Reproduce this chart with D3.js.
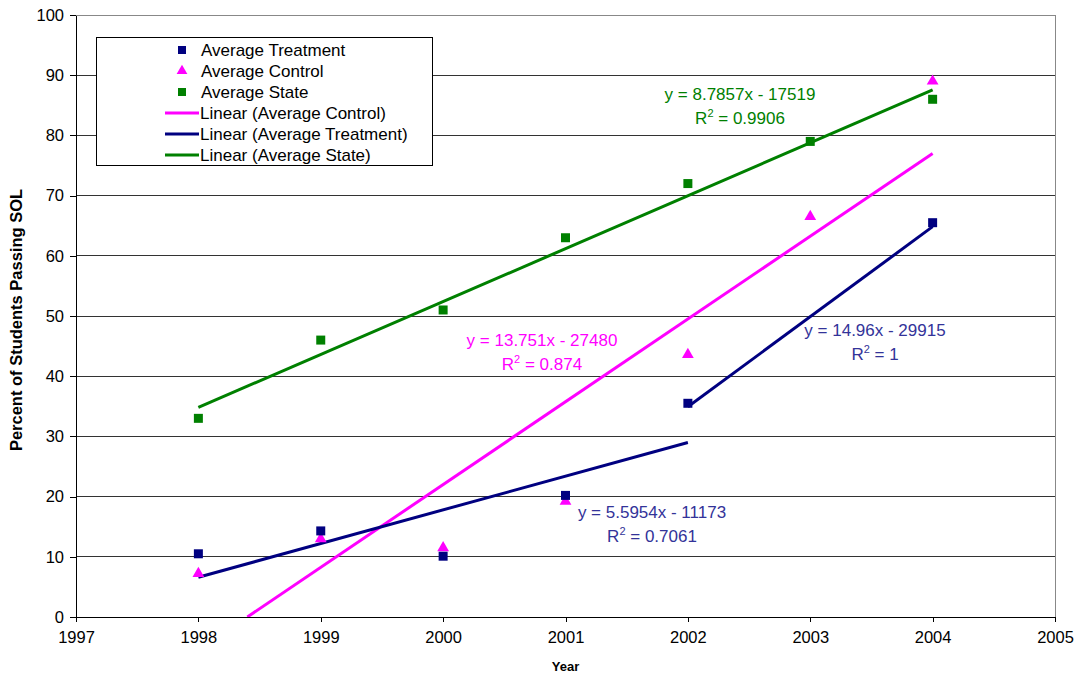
<!DOCTYPE html>
<html>
<head>
<meta charset="utf-8">
<script src="https://cdn.jsdelivr.net/npm/d3@7"></script>
<style>
  html, body { margin: 0; padding: 0; background: #fff; }
  svg { display: block; font-family: "Liberation Sans", Arial, sans-serif; }
</style>
</head>
<body>
<svg id="chart" width="1080" height="677"></svg>
<script>
// Survey years
const years = [1998, 1999, 2000, 2001, 2002, 2003, 2004];

// Percent of students passing SOL (null = no value reported)
const treatment = [10.5, 14.3, 10.1, 20.2, 35.5, null, 65.5];
const control   = [7.2, 13.0, 11.5, 19.2, 43.6, 66.5, 89.0];
const state     = [33.0, 46.0, 51.0, 63.0, 72.0, 79.0, 86.0];

// Linear trendlines as reported: [slope, intercept, fromYear, toYear]
const trendControl    = [13.751, -27480, 1998, 2004];
const trendTreatmentA = [5.5954, -11173, 1998, 2002];
const trendTreatmentB = [14.96, -29915, 2002, 2004];
const trendState      = [8.7857, -17519, 1998, 2004];

// Axis ticks
const xTicks = [1997, 1998, 1999, 2000, 2001, 2002, 2003, 2004, 2005];
const yTicks = [0, 10, 20, 30, 40, 50, 60, 70, 80, 90, 100];

const C_TREAT = "#000080", C_CTRL = "#ff00ff", C_STATE = "#008000";
const FS = 17;

const svg = d3.select("#chart");
const plot = { left: 76, right: 1055, top: 15, bottom: 617 };

const x = d3.scaleLinear().domain([1997, 2005]).range([plot.left, plot.right]);
const y = d3.scaleLinear().domain([0, 100]).range([plot.bottom, plot.top]);

// Gridlines
svg.append("g").selectAll("line").data(yTicks.filter(d => d > 0)).join("line")
  .attr("x1", plot.left).attr("x2", plot.right)
  .attr("y1", d => y(d)).attr("y2", d => y(d))
  .attr("stroke", d => d === 100 ? "#888" : "#333").attr("stroke-width", 1)
  .attr("shape-rendering", "crispEdges");

// Right border of plot
svg.append("line")
  .attr("x1", plot.right).attr("x2", plot.right)
  .attr("y1", plot.top).attr("y2", plot.bottom)
  .attr("stroke", "#888").attr("shape-rendering", "crispEdges");

// Axes
const xAxis = d3.axisBottom(x).tickValues(xTicks).tickFormat(d3.format("d")).tickSizeInner(5).tickSizeOuter(0).tickPadding(9);
const gx = svg.append("g").attr("transform", `translate(0,${plot.bottom})`).call(xAxis);
const yAxis = d3.axisLeft(y).tickValues(yTicks).tickSizeInner(6).tickSizeOuter(0).tickPadding(6);
const gy = svg.append("g").attr("transform", `translate(${plot.left},0)`).call(yAxis);
[gx, gy].forEach(g => {
  g.selectAll("path.domain").attr("stroke", "#000").attr("shape-rendering", "crispEdges");
  g.selectAll(".tick line").attr("stroke", "#000").attr("shape-rendering", "crispEdges");
  g.selectAll(".tick text").attr("font-size", 16.5).attr("fill", "#000")
    .attr("font-family", "'Liberation Sans', Arial, sans-serif");
});

// Axis titles
svg.append("text").attr("x", x(2001)).attr("y", 671).attr("text-anchor", "middle")
  .attr("font-size", 13).attr("font-weight", "bold").text("Year");
svg.append("text").attr("transform", `translate(22,${(plot.top + plot.bottom) / 2 + 4}) rotate(-90)`)
  .attr("text-anchor", "middle").attr("font-size", 16.5).attr("font-weight", "bold")
  .text("Percent of Students Passing SOL");

// Trendlines
svg.append("clipPath").attr("id", "plotclip").append("rect")
  .attr("x", plot.left).attr("y", plot.top)
  .attr("width", plot.right - plot.left).attr("height", plot.bottom - plot.top);

function trendPoints(t) {
  const [m, b, x0, x1] = t;
  const f = v => m * v + b;
  let start = x0;
  if (f(x0) < 0) start = -b / m; // begin where the fit crosses zero
  return [[start, f(start)], [x1, f(x1)]];
}
const lineGen = d3.line().x(d => x(d[0])).y(d => y(d[1]));
const tl = svg.append("g").attr("clip-path", "url(#plotclip)");
[[trendControl, C_CTRL], [trendTreatmentA, C_TREAT], [trendTreatmentB, C_TREAT], [trendState, C_STATE]]
  .forEach(([t, c]) => {
    tl.append("path").attr("d", lineGen(trendPoints(t)))
      .attr("fill", "none").attr("stroke", c).attr("stroke-width", 3);
  });

// Markers
const sq = d3.symbol().type(d3.symbolSquare).size(81);
const tri = d3.symbol().type(d3.symbolTriangle).size(60);
function markers(vals, gen, color) {
  const pts = years.map((yr, i) => [yr, vals[i]]).filter(d => d[1] != null);
  svg.append("g").selectAll("path").data(pts).join("path")
    .attr("transform", d => `translate(${x(d[0])},${y(d[1])})`)
    .attr("d", gen).attr("fill", color);
}
markers(state, sq, C_STATE);
markers(control, tri, C_CTRL);
markers(treatment, sq, C_TREAT);

// Trendline equations
function eqLabel(cx, cy, eq, r2, color) {
  const g = svg.append("g").attr("fill", color).attr("font-size", FS);
  g.append("text").attr("x", cx).attr("y", cy).attr("text-anchor", "middle").text(eq);
  const t = g.append("text").attr("x", cx).attr("y", cy + 24).attr("text-anchor", "middle");
  t.append("tspan").text("R");
  t.append("tspan").attr("font-size", 11).attr("dy", -7).text("2");
  t.append("tspan").attr("dy", 7).text(" = " + r2);
}
const fmtEq = t => `y = ${t[0]}x - ${Math.abs(t[1])}`;
eqLabel(740, 100, fmtEq(trendState), "0.9906", C_STATE);
eqLabel(542, 346, fmtEq(trendControl), "0.874", C_CTRL);
eqLabel(652, 518, fmtEq(trendTreatmentA), "0.7061", "#333399");
eqLabel(875, 336, fmtEq(trendTreatmentB), "1", "#333399");

// Legend
const legend = svg.append("g");
legend.append("rect").attr("x", 96.5).attr("y", 37.5).attr("width", 336).attr("height", 128)
  .attr("fill", "#fff").attr("stroke", "#000").attr("stroke-width", 1);
const legItems = [
  { label: "Average Treatment", kind: "sq", color: C_TREAT },
  { label: "Average Control", kind: "tri", color: C_CTRL },
  { label: "Average State", kind: "sq", color: C_STATE },
  { label: "Linear (Average Control)", kind: "line", color: C_CTRL },
  { label: "Linear (Average Treatment)", kind: "line", color: C_TREAT },
  { label: "Linear (Average State)", kind: "line", color: C_STATE }
];
const legRow = d3.scaleLinear().domain([0, 5]).range([50, 155]);
legItems.forEach((it, i) => {
  const ly = legRow(i);
  if (it.kind === "line") {
    legend.append("line").attr("x1", 165).attr("x2", 199).attr("y1", ly).attr("y2", ly)
      .attr("stroke", it.color).attr("stroke-width", 3);
  } else {
    legend.append("path").attr("transform", `translate(182,${ly})`)
      .attr("d", it.kind === "sq" ? d3.symbol().type(d3.symbolSquare).size(64)() : d3.symbol().type(d3.symbolTriangle).size(50)())
      .attr("fill", it.color);
  }
  legend.append("text").attr("x", it.kind === "line" ? 200 : 201).attr("y", ly + 6)
    .attr("font-size", FS).attr("fill", "#000").text(it.label);
});
</script>
</body>
</html>
